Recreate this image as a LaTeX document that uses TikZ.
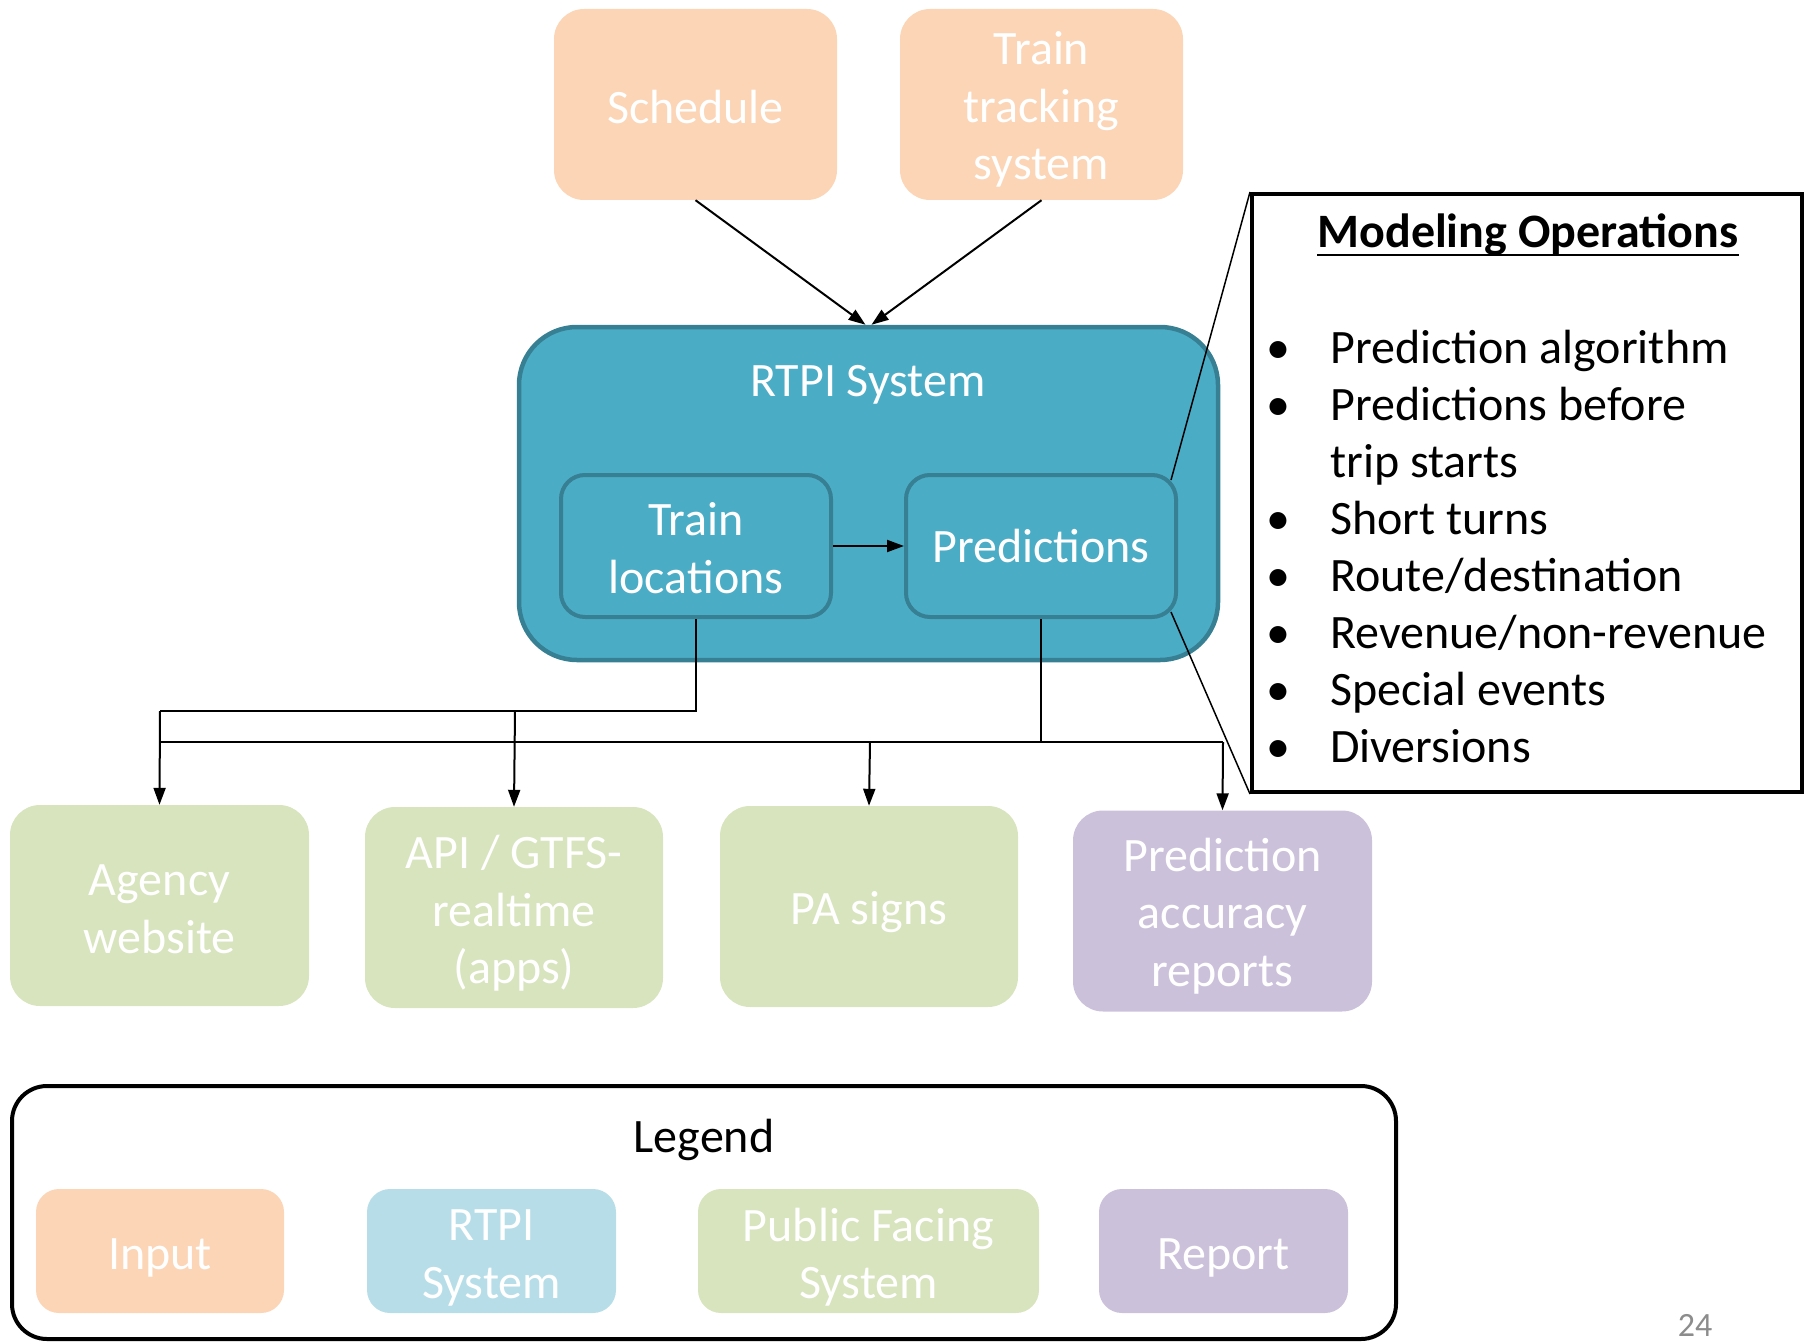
\documentclass[tikz,border=0pt]{standalone}
\usepackage{fontspec}
\setmainfont{Carlito}
\usetikzlibrary{arrows.meta,calc}
\definecolor{peach}{HTML}{FBD5B5}
\definecolor{rtpifill}{HTML}{4BACC6}
\definecolor{rtpiedge}{HTML}{377F92}
\definecolor{lblue}{HTML}{B7DEE8}
\definecolor{lgreen}{HTML}{D7E4BD}
\definecolor{lpurple}{HTML}{CCC1DA}
\definecolor{pagegray}{HTML}{8C8C8C}
\newcommand\bigf{\fontsize{48}{57.5}\selectfont}
\begin{document}
\begin{tikzpicture}[x=1pt,y=-1pt,
  pbox/.style={rounded corners=30pt, inner sep=0pt},
  lbox/.style={rounded corners=23pt, inner sep=0pt, minimum height=124pt},
  boxtxt/.style={text=white, align=center, font=\bigf, inner sep=0pt},
  sysbox/.style={draw=rtpiedge, fill=rtpifill, line width=4.5pt},
  innerbox/.style={draw=rtpiedge, fill=rtpifill, line width=4pt, rounded corners=24pt,
     minimum width=270pt, minimum height=142pt, inner sep=0pt},
  txt/.style={font=\bigf, inner sep=0pt},
  conn/.style={line width=2pt, -{Triangle[length=17pt,width=12pt]}},
  wire/.style={line width=2pt},
  thinl/.style={line width=1.5pt}
]
\useasboundingbox (0,0) rectangle (1806,1343);

% inputs
\node[pbox, fill=peach, minimum width=283pt, minimum height=191pt] (sched) at (695.5,104.5) {};
\node[boxtxt] (schedt) at ([yshift=-3pt]sched.center) {Schedule};
\node[pbox, fill=peach, minimum width=283pt, minimum height=191pt] (track) at (1041.5,104.5) {};
\node[boxtxt] (trackt) at ([yshift=-5pt]track.center) {Train\\tracking\\system};

% RTPI system
\node[sysbox, rounded corners=58pt, minimum width=699pt, minimum height=333pt] (rtpi) at (868.5,493.5) {};
\node[txt, text=white] (rtpititle) at (868,385) {RTPI System};
\node[innerbox] (tl) at (696,546) {};
\node[boxtxt] (tlt) at ([yshift=-2pt]tl.center) {Train\\locations};
\node[innerbox] (pred) at (1041,546) {};
\node[boxtxt] (predt) at (pred.center) {Predictions};

\draw[conn] (sched.south) -- ([xshift=-3pt]rtpi.north);
\draw[conn] (track.south) -- ([xshift=3pt]rtpi.north);
\draw[conn] (tl.east) -- (pred.west);

% outputs
\node[pbox, fill=lgreen, minimum width=299pt, minimum height=201pt] (agency) at (159.5,905.5) {};
\node[boxtxt] (agencyt) at ([yshift=-4pt]agency.center) {Agency\\website};
\node[pbox, fill=lgreen, minimum width=298pt, minimum height=201pt] (api) at (514,907.5) {};
\node[boxtxt] (apit) at ([yshift=-6pt]api.center) {API / GTFS-\\realtime\\(apps)};
\node[pbox, fill=lgreen, minimum width=298pt, minimum height=201pt] (pa) at (869,906.5) {};
\node[boxtxt] (pat) at ([yshift=-6pt]pa.center) {PA signs};
\node[pbox, fill=lpurple, minimum width=299pt, minimum height=201pt] (par) at (1222.5,911) {};
\node[boxtxt] (part) at ([yshift=-5pt]par.center) {Prediction\\accuracy\\reports};

\coordinate (j0) at (696,711);
\coordinate (j1) at (160,711);
\coordinate (j2) at (515,711);
\coordinate (k0) at (1041,742);
\coordinate (kL) at (160,742);
\coordinate (kM) at (870,742);
\coordinate (kR) at (1223,742);
\draw[wire] (tl.south) -- (j0) -- (j1);
\draw[conn] (j1) -- (agency.north);
\draw[conn] (j2) -- (api.north);
\draw[wire] (pred.south) -- (k0);
\draw[wire] (kL) -- (kR);
\draw[conn] (kM) -- (pa.north);
\draw[conn] (kR) -- (par.north);

% modeling operations callout
\node[draw, line width=4pt, minimum width=550pt, minimum height=598pt, inner sep=0pt] (mo) at (1527,493) {};
\draw[thinl] ([xshift=-7pt,yshift=-7pt]pred.north east) -- (mo.north west);
\draw[thinl] ([xshift=-7pt,yshift=7pt]pred.south east) -- (mo.south west);
\node[txt, font=\bigf\bfseries, anchor=base] (motitle) at (1528,247) {Modeling Operations};
\draw[line width=2.5pt] ([yshift=-8pt]motitle.base west) -- ([yshift=-8pt]motitle.base east);

\foreach \t [count=\i from 0] in {Prediction algorithm, Predictions before, trip starts, Short turns, Route/destination, Revenue/non-revenue, Special events, Diversions} {
  \node[txt, anchor=base west] (m\i) at (1330,363+57*\i) {\t};
}
\foreach \i in {0,1,3,4,5,6,7} {
  \node[txt, anchor=base] (b\i) at (1278,363+57*\i) {•};
}

% legend
\node[draw, line width=4pt, rounded corners=35pt, minimum width=1384pt, minimum height=253pt, inner sep=0pt] (legend) at (704,1212.5) {};
\node[txt] (legtitle) at (704,1140) {Legend};
\node[lbox, fill=peach, minimum width=248pt] (lin) at (160,1251) {};
\node[boxtxt] (lint) at ([yshift=-7pt]lin.center) {Input};
\node[lbox, fill=lblue, minimum width=249pt] (lrt) at (491.5,1251) {};
\node[boxtxt] (lrtt) at ([yshift=-7pt]lrt.center) {RTPI\\System};
\node[lbox, fill=lgreen, minimum width=341pt] (lpub) at (868.5,1251) {};
\node[boxtxt] (lpubt) at ([yshift=-6pt]lpub.center) {Public Facing\\System};
\node[lbox, fill=lpurple, minimum width=249pt] (lrep) at (1223.5,1251) {};
\node[boxtxt] (lrept) at ([yshift=-7pt]lrep.center) {Report};

\node[inner sep=0pt, text=pagegray, font=\fontsize{34}{40}\selectfont] (pnum) at (1695,1325) {24};
\end{tikzpicture}
\end{document}
